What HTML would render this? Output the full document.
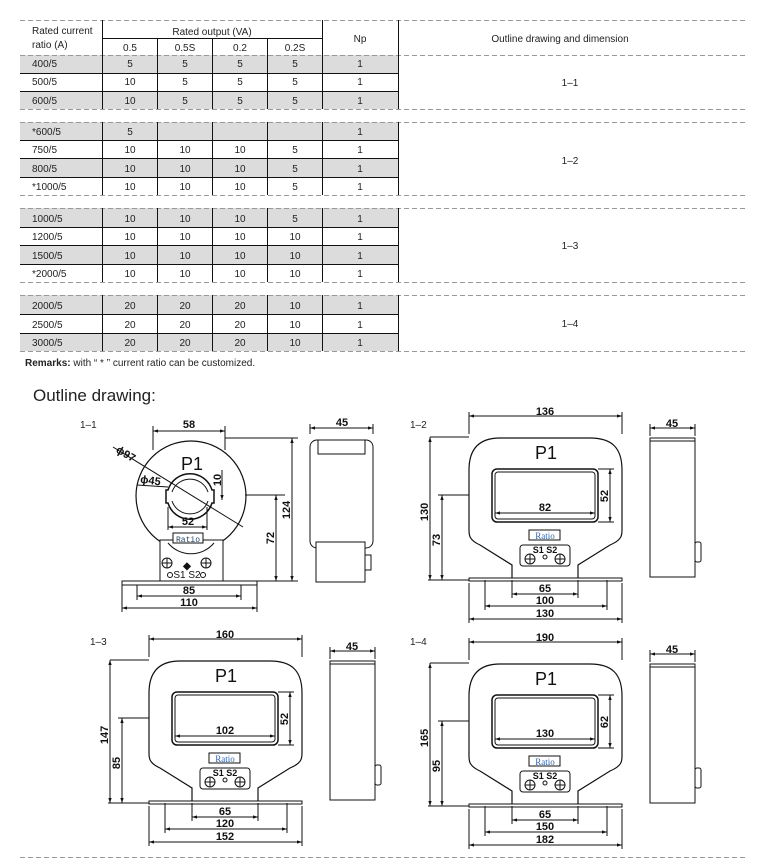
<!DOCTYPE html>
<html><head><meta charset="utf-8"><style>
body{margin:0;background:#fff}
svg{display:block;font-family:"Liberation Sans",Arial,sans-serif}
.t{font-size:10px;fill:#222}
.d{font-family:"Liberation Sans",sans-serif;font-size:11px;font-weight:bold;fill:#111}
</style></head><body>
<svg width="773" height="868" viewBox="0 0 773 868" xmlns="http://www.w3.org/2000/svg">
<defs>
<marker id="a" viewBox="0 0 6 6" refX="6" refY="3" markerWidth="5" markerHeight="5" orient="auto-start-reverse"><path d="M0,1 L6,3 L0,5z" fill="#111"/></marker>
</defs>
<g fill="#dcdcdc">
<rect x="20" y="55" width="378" height="18"/><rect x="20" y="91" width="378" height="18"/>
<rect x="20" y="122" width="378" height="18"/><rect x="20" y="158" width="378" height="19"/>
<rect x="20" y="208" width="378" height="19"/><rect x="20" y="245" width="378" height="19"/>
<rect x="20" y="295" width="378" height="19"/><rect x="20" y="333" width="378" height="18"/>
</g>
<g stroke="#999" stroke-dasharray="5,3" stroke-width="1">
<line x1="20" y1="20.5" x2="748" y2="20.5"/><line x1="20" y1="55.5" x2="748" y2="55.5"/>
<line x1="20" y1="109.5" x2="748" y2="109.5"/><line x1="20" y1="122.5" x2="748" y2="122.5"/>
<line x1="20" y1="195.5" x2="748" y2="195.5"/><line x1="20" y1="208.5" x2="748" y2="208.5"/>
<line x1="20" y1="282.5" x2="748" y2="282.5"/><line x1="20" y1="295.5" x2="748" y2="295.5"/>
<line x1="20" y1="351.5" x2="748" y2="351.5"/>
<line x1="20" y1="857.5" x2="748" y2="857.5"/>
</g>
<g stroke="#111" stroke-width="1">
<line x1="20" y1="73.5" x2="398" y2="73.5"/><line x1="20" y1="91.5" x2="398" y2="91.5"/>
<line x1="20" y1="140.5" x2="398" y2="140.5"/><line x1="20" y1="158.5" x2="398" y2="158.5"/><line x1="20" y1="177.5" x2="398" y2="177.5"/>
<line x1="20" y1="227.5" x2="398" y2="227.5"/><line x1="20" y1="245.5" x2="398" y2="245.5"/><line x1="20" y1="264.5" x2="398" y2="264.5"/>
<line x1="20" y1="314.5" x2="398" y2="314.5"/><line x1="20" y1="333.5" x2="398" y2="333.5"/>
<line x1="102" y1="38.5" x2="322" y2="38.5"/>
<path d="M102.5 20V109M322.5 20V109M398.5 20V109M157.5 38V109M212.5 38V109M267.5 38V109"/>
<path d="M102.5 122V195M157.5 122V195M212.5 122V195M267.5 122V195M322.5 122V195M398.5 122V195"/>
<path d="M102.5 208V282M157.5 208V282M212.5 208V282M267.5 208V282M322.5 208V282M398.5 208V282"/>
<path d="M102.5 295V351M157.5 295V351M212.5 295V351M267.5 295V351M322.5 295V351M398.5 295V351"/>
</g>
<g class="t">
<text x="32" y="34">Rated current</text><text x="32" y="48">ratio (A)</text>
<text x="212" y="35" text-anchor="middle">Rated output (VA)</text>
<text x="130" y="51" text-anchor="middle">0.5</text><text x="185" y="51" text-anchor="middle">0.5S</text>
<text x="240" y="51" text-anchor="middle">0.2</text><text x="295" y="51" text-anchor="middle">0.2S</text>
<text x="360" y="42" text-anchor="middle">Np</text>
<text x="560" y="42" text-anchor="middle">Outline drawing and dimension</text>
</g>
<g class="t" text-anchor="middle">
<text x="32" y="67" text-anchor="start">400/5</text><text x="130" y="67">5</text><text x="185" y="67">5</text><text x="240" y="67">5</text><text x="295" y="67">5</text><text x="360" y="67">1</text>
<text x="32" y="85" text-anchor="start">500/5</text><text x="130" y="85">10</text><text x="185" y="85">5</text><text x="240" y="85">5</text><text x="295" y="85">5</text><text x="360" y="85">1</text>
<text x="32" y="104" text-anchor="start">600/5</text><text x="130" y="104">10</text><text x="185" y="104">5</text><text x="240" y="104">5</text><text x="295" y="104">5</text><text x="360" y="104">1</text>
<text x="570" y="86">1–1</text>
<text x="32" y="135" text-anchor="start">*600/5</text><text x="130" y="135">5</text><text x="360" y="135">1</text>
<text x="32" y="153" text-anchor="start">750/5</text><text x="130" y="153">10</text><text x="185" y="153">10</text><text x="240" y="153">10</text><text x="295" y="153">5</text><text x="360" y="153">1</text>
<text x="32" y="172" text-anchor="start">800/5</text><text x="130" y="172">10</text><text x="185" y="172">10</text><text x="240" y="172">10</text><text x="295" y="172">5</text><text x="360" y="172">1</text>
<text x="32" y="190" text-anchor="start">*1000/5</text><text x="130" y="190">10</text><text x="185" y="190">10</text><text x="240" y="190">10</text><text x="295" y="190">5</text><text x="360" y="190">1</text>
<text x="570" y="164">1–2</text>
<text x="32" y="222" text-anchor="start">1000/5</text><text x="130" y="222">10</text><text x="185" y="222">10</text><text x="240" y="222">10</text><text x="295" y="222">5</text><text x="360" y="222">1</text>
<text x="32" y="240" text-anchor="start">1200/5</text><text x="130" y="240">10</text><text x="185" y="240">10</text><text x="240" y="240">10</text><text x="295" y="240">10</text><text x="360" y="240">1</text>
<text x="32" y="259" text-anchor="start">1500/5</text><text x="130" y="259">10</text><text x="185" y="259">10</text><text x="240" y="259">10</text><text x="295" y="259">10</text><text x="360" y="259">1</text>
<text x="32" y="277" text-anchor="start">*2000/5</text><text x="130" y="277">10</text><text x="185" y="277">10</text><text x="240" y="277">10</text><text x="295" y="277">10</text><text x="360" y="277">1</text>
<text x="570" y="249">1–3</text>
<text x="32" y="309" text-anchor="start">2000/5</text><text x="130" y="309">20</text><text x="185" y="309">20</text><text x="240" y="309">20</text><text x="295" y="309">10</text><text x="360" y="309">1</text>
<text x="32" y="328" text-anchor="start">2500/5</text><text x="130" y="328">20</text><text x="185" y="328">20</text><text x="240" y="328">20</text><text x="295" y="328">10</text><text x="360" y="328">1</text>
<text x="32" y="346" text-anchor="start">3000/5</text><text x="130" y="346">20</text><text x="185" y="346">20</text><text x="240" y="346">20</text><text x="295" y="346">10</text><text x="360" y="346">1</text>
<text x="570" y="327">1–4</text>
</g>
<text x="25" y="366" class="t"><tspan font-weight="bold">Remarks:</tspan> with  “ * ”  current ratio can be customized.</text>
<text x="33" y="401" font-size="17" fill="#222">Outline drawing:</text>

<text x="80" y="428" class="t" fill="#224">1–1</text>
<g stroke="#111" fill="none" stroke-width="1">
<path d="M153 450V426M225 450V426M245 495H285M225 438H298M223 581H298"/>
<line x1="153" y1="431" x2="225" y2="431" marker-start="url(#a)" marker-end="url(#a)"/>
<circle cx="191" cy="496" r="55" stroke-width="1.2"/>
<path d="M168 490 A23 23 0 0 1 212 490 L214 490 V503 L212 503 A23 23 0 0 1 168 503 L166 503 V490Z" stroke-width="1.5"/>
<path d="M172 492 A19 19 0 0 1 208 492 M208 501 A19 19 0 0 1 172 501" stroke-width="1"/>
<rect x="160" y="540" width="63" height="41" fill="#fff"/>
<path d="M168 543 A30 30 0 0 0 214 543" />
<rect x="122" y="581" width="135" height="4"/>
<rect x="173" y="533" width="30" height="10" fill="#fff"/>
<circle cx="167" cy="563" r="5"/><path d="M162 563H172M167 558V568"/>
<circle cx="206" cy="563" r="5"/><path d="M201 563H211M206 558V568"/>
<circle cx="170" cy="575" r="2.5"/><circle cx="203" cy="575" r="2.5"/>
<path d="M137 585V600M241 585V600M122 585V612M257 585V612M168 507V530M207 507V530"/>
<line x1="137" y1="596" x2="241" y2="596" marker-start="url(#a)" marker-end="url(#a)"/>
<line x1="122" y1="608" x2="257" y2="608" marker-start="url(#a)" marker-end="url(#a)"/>
<line x1="292" y1="438" x2="292" y2="581" marker-start="url(#a)" marker-end="url(#a)"/>
<line x1="276" y1="495" x2="276" y2="581" marker-start="url(#a)" marker-end="url(#a)"/>
<line x1="222" y1="470" x2="222" y2="500" marker-end="url(#a)"/>
<line x1="168" y1="527" x2="207" y2="527" marker-start="url(#a)" marker-end="url(#a)"/>
<line x1="113" y1="447" x2="243" y2="527"/>
<line x1="137" y1="485" x2="168" y2="487"/>
<rect x="310" y="440" width="63" height="108" rx="7"/>
<rect x="318" y="440" width="47" height="14"/>
<rect x="316" y="542" width="49" height="40" fill="#fff"/>
<rect x="365" y="555" width="6" height="15"/>
<path d="M310 434V424M373 434V424"/>
<line x1="310" y1="428" x2="373" y2="428" marker-start="url(#a)" marker-end="url(#a)"/>
</g>
<text x="192" y="470" font-size="18" text-anchor="middle" fill="#111">P1</text>
<text x="188" y="542" font-size="8" text-anchor="middle" fill="#246" font-family="Liberation Mono,monospace">Ratio</text>
<text x="187" y="569" font-size="10" text-anchor="middle" fill="#111" font-weight="bold">◆</text>
<text x="187" y="578" font-size="10" text-anchor="middle" fill="#111">S1  S2</text>
<g class="d" text-anchor="middle">
<text x="189" y="428">58</text><text x="189" y="594">85</text><text x="189" y="606">110</text>
<text x="188" y="525">52</text><text x="342" y="426">45</text>
<text transform="translate(290,510) rotate(-90)">124</text>
<text transform="translate(274,538) rotate(-90)">72</text>
<text transform="translate(221,480) rotate(-90)">10</text>
<text transform="translate(124,457) rotate(31)">ɸ97</text>
<text transform="translate(150,484) rotate(8)">ɸ45</text>
</g>

<g id="tpl" stroke="#111" fill="none" stroke-width="1">
<path d="M469 437 H430"/>
<path d="M469 434 V412"/>
<path d="M622 434 V412"/>
<path d="M469 495 H438"/>
<path d="M469 580 H428"/>
<path d="M512 580 V598"/>
<path d="M578 580 V598"/>
<path d="M485 580 V610"/>
<path d="M607 580 V610"/>
<path d="M469 583 V623"/>
<path d="M622 583 V623"/>
<path d="M598 469 H614"/>
<path d="M598 522 H614"/>
<line x1="469" y1="416" x2="622" y2="416" marker-start="url(#a)" marker-end="url(#a)"/>
<path d="M512 578 V565 L480 545 C469 540 469 535 469 530 V470 C469 448 480 438 500 438 H590 C612 438 622 448 622 470 V530 C622 535 622 540 610 545 L578 565 V578" stroke-width="1.2"/>
<rect x="469" y="578" width="153" height="3"/>
<rect x="492" y="469" width="106" height="53" rx="5" stroke-width="1.5"/>
<rect x="495" y="472" width="100" height="47" rx="3"/>
<line x1="495" y1="513" x2="595" y2="513" marker-start="url(#a)" marker-end="url(#a)"/>
<line x1="610" y1="469" x2="610" y2="522" marker-start="url(#a)" marker-end="url(#a)"/>
<rect x="529" y="530" width="31" height="10"/>
<rect x="520" y="545" width="50" height="21" rx="3"/>
<circle cx="530" cy="559" r="5"/><path d="M525 559H535M530 554V564"/>
<circle cx="560" cy="559" r="5"/><path d="M555 559H565M560 554V564"/>
<circle cx="545" cy="557" r="2"/>
<line x1="430" y1="437" x2="430" y2="580" marker-start="url(#a)" marker-end="url(#a)"/>
<line x1="442" y1="495" x2="442" y2="580" marker-start="url(#a)" marker-end="url(#a)"/>
<line x1="512" y1="594" x2="578" y2="594" marker-start="url(#a)" marker-end="url(#a)"/>
<line x1="485" y1="606" x2="607" y2="606" marker-start="url(#a)" marker-end="url(#a)"/>
<line x1="469" y1="619" x2="622" y2="619" marker-start="url(#a)" marker-end="url(#a)"/>
<rect x="650" y="438" width="45" height="139"/>
<line x1="650" y1="441" x2="695" y2="441"/>
<rect x="695" y="542" width="6" height="20" rx="2"/>
<path d="M650 436 V424"/>
<path d="M695 436 V424"/>
<line x1="650" y1="428" x2="695" y2="428" marker-start="url(#a)" marker-end="url(#a)"/>
</g>
<use href="#tpl" transform="translate(-320,223)"/>
<use href="#tpl" transform="translate(0,226)"/>

<g fill="#111">
<text x="410" y="428" class="t" fill="#224">1–2</text>
<text x="90" y="645" class="t" fill="#224">1–3</text>
<text x="410" y="645" class="t" fill="#224">1–4</text>
</g>
<g id="tt">
<text x="546" y="459" font-size="18" text-anchor="middle" fill="#111">P1</text>
<text x="545" y="539" font-size="9" text-anchor="middle" fill="#36a" font-family="Liberation Serif,serif">Ratio</text>
<text x="545" y="553" font-size="9" text-anchor="middle" fill="#111" font-weight="bold">S1    S2</text>
</g>
<use href="#tt" transform="translate(-320,223)"/>
<use href="#tt" transform="translate(0,226)"/>

<g class="d" text-anchor="middle">
<text x="545" y="415">136</text><text x="545" y="511">82</text><text x="545" y="592">65</text><text x="545" y="604">100</text><text x="545" y="617">130</text><text x="672" y="427">45</text>
<text transform="translate(428,512) rotate(-90)">130</text><text transform="translate(440,540) rotate(-90)">73</text><text transform="translate(608,496) rotate(-90)">52</text>
</g>
<g class="d" text-anchor="middle" transform="translate(-320,223)">
<text x="545" y="415">160</text><text x="545" y="511">102</text><text x="545" y="592">65</text><text x="545" y="604">120</text><text x="545" y="617">152</text><text x="672" y="427">45</text>
<text transform="translate(428,512) rotate(-90)">147</text><text transform="translate(440,540) rotate(-90)">85</text><text transform="translate(608,496) rotate(-90)">52</text>
</g>
<g class="d" text-anchor="middle" transform="translate(0,226)">
<text x="545" y="415">190</text><text x="545" y="511">130</text><text x="545" y="592">65</text><text x="545" y="604">150</text><text x="545" y="617">182</text><text x="672" y="427">45</text>
<text transform="translate(428,512) rotate(-90)">165</text><text transform="translate(440,540) rotate(-90)">95</text><text transform="translate(608,496) rotate(-90)">62</text>
</g>
</svg>
</body></html>
